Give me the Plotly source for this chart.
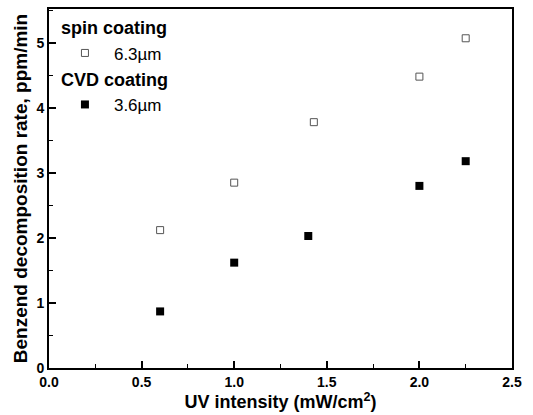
import plotly.graph_objects as go

uv_spin = [0.6, 1.0, 1.43, 2.0, 2.25]
rate_spin = [2.12, 2.85, 3.78, 4.48, 5.07]
uv_cvd = [0.6, 1.0, 1.4, 2.0, 2.25]
rate_cvd = [0.87, 1.62, 2.03, 2.80, 3.18]

fig = go.Figure()
fig.add_trace(go.Scatter(
    x=uv_spin, y=rate_spin, mode="markers", name="6.3\u00b5m",
    legendgroup="spin", legendgrouptitle=dict(text="<b>spin coating</b>", font=dict(size=18, color="black")),
    marker=dict(symbol="square-open", size=7, color="#555", line=dict(width=1, color="#555"))))
fig.add_trace(go.Scatter(
    x=uv_cvd, y=rate_cvd, mode="markers", name="3.6\u00b5m",
    legendgroup="cvd", legendgrouptitle=dict(text="<b>CVD coating</b>", font=dict(size=18, color="black")),
    marker=dict(symbol="square", size=8, color="black")))

axis_common = dict(
    showgrid=False, zeroline=False, showline=True, linecolor="black", linewidth=2,
    mirror=True, ticks="inside", ticklen=7, tickwidth=1.5, tickcolor="black",
    tickprefix="<b>", ticksuffix="</b>",
    tickfont=dict(family="Liberation Sans", size=14, color="black"),
)
fig.update_xaxes(range=[0, 2.5], dtick=0.5, tickformat=".1f",
                 minor=dict(dtick=0.25, ticks="inside", ticklen=4, tickcolor="black", tickwidth=1),
                 title=dict(text="<b>UV intensity (mW/cm<sup>2</sup>)</b>", font=dict(size=18, color="black"), standoff=2),
                 **axis_common)
fig.update_yaxes(range=[0, 5.52], dtick=1,
                 minor=dict(dtick=0.5, ticks="inside", ticklen=4, tickcolor="black", tickwidth=1),
                 title=dict(text="<b>Benzend decomposition rate, ppm/min</b>", font=dict(size=19, color="black"), standoff=4),
                 **axis_common)
fig.update_layout(
    width=533, height=415, margin=dict(l=49, r=21, t=7, b=47),
    paper_bgcolor="white", plot_bgcolor="white",
    font=dict(family="Liberation Sans", color="black"),
    legend=dict(x=0.015, y=1.0, xanchor="left", yanchor="top", bgcolor="rgba(0,0,0,0)",
                font=dict(size=17, color="black"), tracegroupgap=0, itemwidth=48),
    showlegend=True,
)
fig.write_html("out.html")
